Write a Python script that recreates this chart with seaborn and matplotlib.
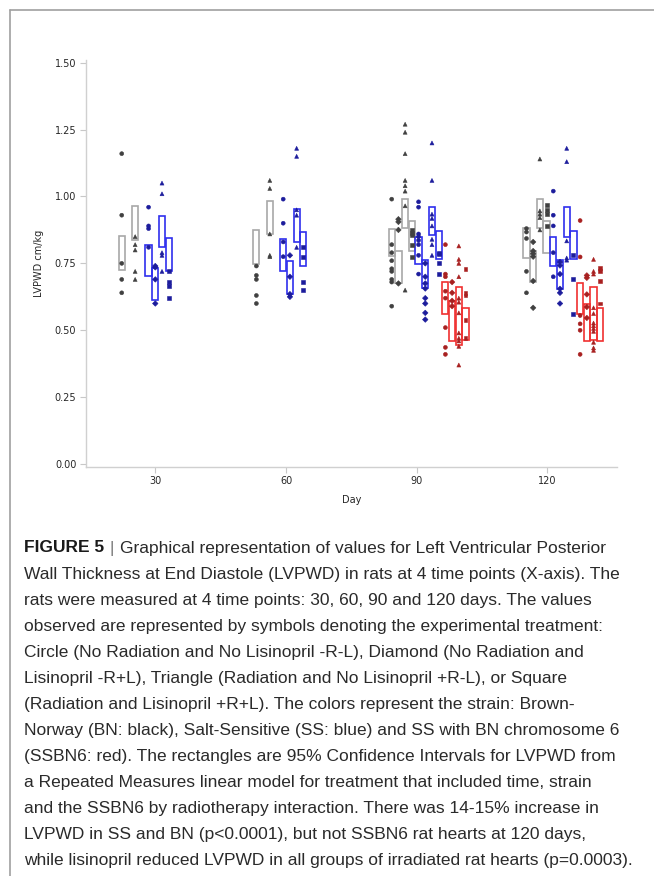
import pandas as pd
import matplotlib.pyplot as plt
import seaborn as sns
from matplotlib.patches import Rectangle
from matplotlib.lines import Line2D
from matplotlib import font_manager

days = [30, 60, 90, 120]
strains = ['BN', 'SS', 'SSBN6']
treatments = ['-R-L', '-R+L', '+R-L', '+R+L']

# observed LVPWD values per day, keyed by (strain, treatment)
obs_30 = {
    ('BN', '-R-L'): [1.16, 0.93, 0.75, 0.69, 0.64],
    ('BN', '+R-L'): [0.85, 0.82, 0.80, 0.72, 0.69],
    ('SS', '-R-L'): [0.96, 0.89, 0.88, 0.81],
    ('SS', '-R+L'): [0.74, 0.735, 0.69, 0.60],
    ('SS', '+R-L'): [1.05, 1.01, 0.79, 0.78, 0.72],
    ('SS', '+R+L'): [0.72, 0.68, 0.665, 0.62],
}
obs_60 = {
    ('BN', '-R-L'): [0.74, 0.705, 0.69, 0.63, 0.60],
    ('BN', '+R-L'): [1.06, 1.03, 0.86, 0.78, 0.775],
    ('SS', '-R-L'): [0.99, 0.90, 0.83, 0.775],
    ('SS', '-R+L'): [0.78, 0.70, 0.635, 0.625],
    ('SS', '+R-L'): [1.18, 1.15, 0.95, 0.93, 0.81],
    ('SS', '+R+L'): [0.81, 0.775, 0.68, 0.65],
}
obs_90 = {
    ('BN', '-R-L'): [0.99, 0.82, 0.79, 0.76, 0.73, 0.72, 0.69, 0.68, 0.59],
    ('BN', '-R+L'): [0.915, 0.905, 0.875, 0.675],
    ('BN', '+R-L'): [1.27, 1.24, 1.16, 1.06, 1.04, 1.02, 0.965, 0.65],
    ('BN', '+R+L'): [0.875, 0.865, 0.856, 0.82, 0.775],
    ('SS', '-R-L'): [0.98, 0.96, 0.86, 0.85, 0.836, 0.82, 0.78, 0.71],
    ('SS', '-R+L'): [0.75, 0.70, 0.675, 0.656, 0.62, 0.60, 0.565, 0.54],
    ('SS', '+R-L'): [1.20, 1.06, 0.934, 0.918, 0.89, 0.84, 0.82, 0.78],
    ('SS', '+R+L'): [0.79, 0.784, 0.75, 0.71],
    ('SSBN6', '-R-L'): [0.82, 0.71, 0.70, 0.646, 0.62, 0.51, 0.436, 0.41],
    ('SSBN6', '-R+L'): [0.68, 0.64, 0.61, 0.59],
    ('SSBN6', '+R-L'): [0.815, 0.765, 0.75, 0.70, 0.62, 0.605, 0.565, 0.49, 0.47, 0.46, 0.44, 0.37],
    ('SSBN6', '+R+L'): [0.73, 0.64, 0.63, 0.54, 0.47],
}
obs_120 = {
    ('BN', '-R-L'): [0.88, 0.867, 0.843, 0.72, 0.64],
    ('BN', '-R+L'): [0.83, 0.796, 0.786, 0.775, 0.684, 0.584],
    ('BN', '+R-L'): [1.14, 0.946, 0.934, 0.921, 0.875],
    ('BN', '+R+L'): [0.968, 0.949, 0.934, 0.89],
    ('SS', '-R-L'): [1.02, 0.93, 0.89, 0.79, 0.70],
    ('SS', '-R+L'): [0.755, 0.742, 0.71, 0.655, 0.64, 0.60],
    ('SS', '+R-L'): [1.18, 1.13, 0.834, 0.77, 0.762],
    ('SS', '+R+L'): [0.78, 0.69, 0.56],
    ('SSBN6', '-R-L'): [0.91, 0.774, 0.555, 0.524, 0.50, 0.41],
    ('SSBN6', '-R+L'): [0.705, 0.696, 0.634, 0.587, 0.546],
    ('SSBN6', '+R-L'): [0.765, 0.72, 0.71, 0.584, 0.5625, 0.527, 0.517, 0.507, 0.496, 0.455, 0.434, 0.425],
    ('SSBN6', '+R+L'): [0.734, 0.72, 0.684, 0.60],
}

# 95% CI (low, high) per day
ci_30 = {
    ('BN', '-R-L'): (0.727, 0.852), ('BN', '+R-L'): (0.837, 0.963),
    ('SS', '-R-L'): (0.702, 0.819), ('SS', '-R+L'): (0.612, 0.734),
    ('SS', '+R-L'): (0.812, 0.927), ('SS', '+R+L'): (0.721, 0.845),
}
ci_60 = {
    ('BN', '-R-L'): (0.749, 0.874), ('BN', '+R-L'): (0.859, 0.984),
    ('SS', '-R-L'): (0.721, 0.842), ('SS', '-R+L'): (0.634, 0.759),
    ('SS', '+R-L'): (0.830, 0.952), ('SS', '+R+L'): (0.742, 0.868),
}
ci_90 = {
    ('BN', '-R-L'): (0.777, 0.880), ('BN', '-R+L'): (0.677, 0.796),
    ('BN', '+R-L'): (0.884, 0.990), ('BN', '+R+L'): (0.796, 0.909),
    ('SS', '-R-L'): (0.746, 0.850), ('SS', '-R+L'): (0.659, 0.762),
    ('SS', '+R-L'): (0.855, 0.962), ('SS', '+R+L'): (0.768, 0.871),
    ('SSBN6', '-R-L'): (0.559, 0.681), ('SSBN6', '-R+L'): (0.460, 0.610),
    ('SSBN6', '+R-L'): (0.446, 0.660), ('SSBN6', '+R+L'): (0.462, 0.584),
}
ci_120 = {
    ('BN', '-R-L'): (0.771, 0.884), ('BN', '-R+L'): (0.680, 0.796),
    ('BN', '+R-L'): (0.881, 0.990), ('BN', '+R+L'): (0.790, 0.909),
    ('SS', '-R-L'): (0.742, 0.850), ('SS', '-R+L'): (0.655, 0.762),
    ('SS', '+R-L'): (0.850, 0.959), ('SS', '+R+L'): (0.765, 0.871),
    ('SSBN6', '-R-L'): (0.559, 0.677), ('SSBN6', '-R+L'): (0.460, 0.600),
    ('SSBN6', '+R-L'): (0.465, 0.660), ('SSBN6', '+R+L'): (0.459, 0.584),
}

obs = {30: obs_30, 60: obs_60, 90: obs_90, 120: obs_120}
cis = {30: ci_30, 60: ci_60, 90: ci_90, 120: ci_120}

caption = [
    "Graphical representation of values for Left Ventricular Posterior",
    "Wall Thickness at End Diastole (LVPWD) in rats at 4 time points (X-axis). The",
    "rats were measured at 4 time points: 30, 60, 90 and 120 days. The values",
    "observed are represented by symbols denoting the experimental treatment:",
    "Circle (No Radiation and No Lisinopril -R-L), Diamond (No Radiation and",
    "Lisinopril -R+L), Triangle (Radiation and No Lisinopril +R-L), or Square",
    "(Radiation and Lisinopril +R+L). The colors represent the strain: Brown-",
    "Norway (BN: black), Salt-Sensitive (SS: blue) and SS with BN chromosome 6",
    "(SSBN6: red). The rectangles are 95% Confidence Intervals for LVPWD from",
    "a Repeated Measures linear model for treatment that included time, strain",
    "and the SSBN6 by radiotherapy interaction. There was 14-15% increase in",
    "LVPWD in SS and BN (p<0.0001), but not SSBN6 rat hearts at 120 days,",
    "while lisinopril reduced LVPWD in all groups of irradiated rat hearts (p=0.0003).",
]

# layout: groups are dodged in slots of equal width next to each day
slot_w = 1.54
slot_start = {30: -7.7, 60: -6.8, 90: -5.74, 120: -4.82}


def slot_x(day, strain, trt):
    slot = strains.index(strain) * 4 + treatments.index(trt)
    return day + slot_start[day] + slot * slot_w


rows = []
for day in days:
    for (strain, trt), vals in obs[day].items():
        for v in vals:
            rows.append({'x': slot_x(day, strain, trt), 'LVPWD': v, 'Strain': strain, 'Treatment': trt})
df = pd.DataFrame(rows)

point_colors = {'BN': '#404040', 'SS': '#1c1c9c', 'SSBN6': '#a82020'}
rect_colors = {'BN': '#a8a8a8', 'SS': '#2f2fee', 'SSBN6': '#f03030'}
markers = {'-R-L': 'o', '-R+L': 'D', '+R-L': '^', '+R+L': 's'}

sns.set_style('white')
fig = plt.figure(figsize=(6.54, 8.76), dpi=100)
ax = fig.add_axes([0.1315, 0.4672, 0.8115, 0.4643])

for day in days:
    for (strain, trt), (lo, hi) in cis[day].items():
        x0 = slot_x(day, strain, trt) - slot_w / 2 + 0.06
        ax.add_patch(Rectangle((x0, lo), slot_w - 0.12, hi - lo, fill=False,
                               edgecolor=rect_colors[strain], linewidth=1.2, zorder=2))

sns.scatterplot(data=df, x='x', y='LVPWD', hue='Strain', style='Treatment',
                palette=point_colors, markers=markers, s=8, linewidth=0.4,
                legend=False, ax=ax, zorder=3)
for coll in ax.collections:
    coll.set_edgecolor(coll.get_facecolor())

ax.set_xlim(14.1, 135.9)
ax.set_ylim(-0.01, 1.51)
ax.set_xticks(days)
ax.set_yticks([0, 0.25, 0.5, 0.75, 1.0, 1.25, 1.5])
ax.set_yticklabels(['0.00', '0.25', '0.50', '0.75', '1.00', '1.25', '1.50'])
ax.tick_params(axis='both', labelsize=7, length=4, width=0.8, color='#c8c8c8', pad=3,
               direction='out', bottom=True, left=True)
ax.set_xlabel('Day', fontsize=7, labelpad=6)
ax.set_ylabel('LVPWD cm/kg', fontsize=7, labelpad=8)
for side in ['top', 'right']:
    ax.spines[side].set_visible(False)
for side in ['left', 'bottom']:
    ax.spines[side].set_color('#d0d0d0')
    ax.spines[side].set_linewidth(1.0)

# panel frame (top and left edges)
fig.add_artist(Line2D([10 / 654, 10 / 654], [0, 1 - 10 / 876], color='#a0a0a0', lw=1.2))
fig.add_artist(Line2D([10 / 654, 1], [1 - 10 / 876, 1 - 10 / 876], color='#a0a0a0', lw=1.2))

# caption
installed = {f.name for f in font_manager.fontManager.ttflist}
cap_font = 'Liberation Sans Narrow' if 'Liberation Sans Narrow' in installed else 'Liberation Sans'
fig.canvas.draw()
renderer = fig.canvas.get_renderer()
probe = fig.text(0, 0, caption[-1], fontsize=12, family=cap_font)
w = probe.get_window_extent(renderer).width
probe.remove()
cap_size = 12 * 612 / w

x_left = 24 / 654
head = fig.text(x_left, 1 - 548 / 876, 'FIGURE 5', fontsize=cap_size, family=cap_font,
                weight='bold', color='#1a1a1a', va='center')
hw = head.get_window_extent(renderer).width
fig.text(x_left + (hw + 5) / 654, 1 - 548 / 876, '|', fontsize=cap_size, family=cap_font,
         color='#777777', va='center')
fig.text(x_left + (hw + 16) / 654, 1 - 548 / 876, caption[0], fontsize=cap_size,
         family=cap_font, color='#2a2a2a', va='center')
for i, line in enumerate(caption[1:], start=1):
    fig.text(x_left, 1 - (548 + 26 * i) / 876, line, fontsize=cap_size, family=cap_font,
             color='#2a2a2a', va='center')

fig.savefig('out.png', dpi=100)
